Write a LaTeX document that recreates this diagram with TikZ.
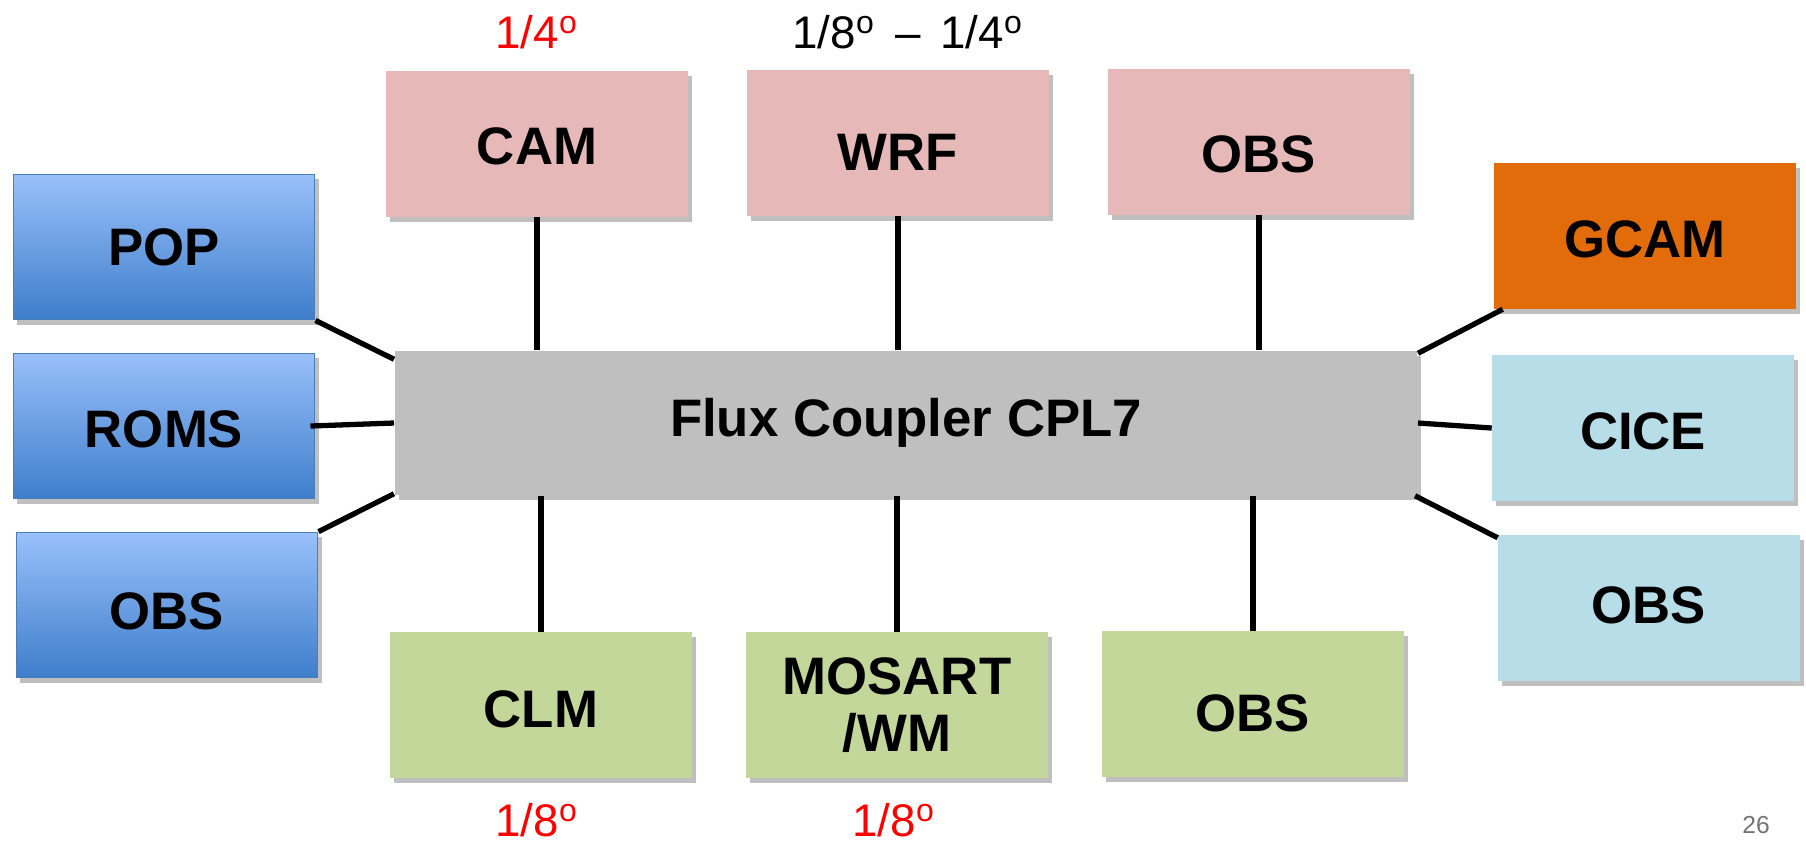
\documentclass[tikz,border=0pt]{standalone}
\usepackage{fontspec}
\setmainfont{Liberation Sans}
\usetikzlibrary{shadows}
\definecolor{atmpink}{HTML}{E6B9B8}
\definecolor{ocntop}{HTML}{98C0FA}
\definecolor{ocnbot}{HTML}{3F7ECB}
\definecolor{ocnedge}{HTML}{4A7EBB}
\definecolor{gcamorange}{HTML}{E36C0A}
\definecolor{iceblue}{HTML}{B7DDE8}
\definecolor{lndgreen}{HTML}{C4D79B}
\definecolor{cplgray}{HTML}{BFBFBF}

\begin{document}
\begin{tikzpicture}[x=0.01cm,y=-0.01cm,
  box/.style={minimum width=3.01cm,minimum height=1.45cm,inner sep=0pt,align=center,
    font=\fontsize{15}{16}\selectfont\bfseries,
    drop shadow={shadow xshift=0.04cm,shadow yshift=-0.05cm,fill=black,opacity=0.25}},
  atm/.style={box,fill=atmpink},
  ocn/.style={box,top color=ocntop,bottom color=ocnbot,draw=ocnedge,line width=0.5pt},
  hum/.style={box,fill=gcamorange},
  ice/.style={box,fill=iceblue},
  lnd/.style={box,fill=lndgreen},
  res/.style={font=\fontsize{13}{15}\selectfont},
  link/.style={line width=1.5pt}]
  \useasboundingbox (0,0) rectangle (1806,841);
  % component models (\th sets where the name sits in its box)
  \foreach \nm/\px/\py/\sty/\th/\lab in {cam/537/144/atm/11.7/CAM, wrf/898/143/atm/15.9/WRF, obsa/1259/142/atm/17.3/OBS,
    pop/164/247/ocn/10.7/POP, roms/164/426/ocn/12/ROMS, obso/167/605/ocn/14/OBS,
    gcam/1645/236/hum/12/GCAM, cice/1643/428/ice/12/CICE, obsi/1649/608/ice/8.7/OBS,
    clm/541/705/lnd/12.7/CLM, obsl/1253/704/lnd/15.9/OBS}
    \node[\sty,text height=\th pt,text depth=0pt] (\nm) at (\px,\py) {\lab};
  \node[lnd] (mos) at (897,705) {MOSART\\/WM};
  \node[box,fill=cplgray,minimum width=10.22cm,minimum height=1.44cm] (cpl) at (906,423) {Flux Coupler CPL7};
  % links to the coupler
  \foreach \nm in {cam,wrf,obsa} \draw[link] (\nm.south) -- (\nm.south |- cpl.north);
  \foreach \nm in {clm,mos,obsl} \draw[link] (\nm.north) -- (\nm.north |- cpl.south);
  \draw[link] (pop.south east) -- ([yshift=-0.09cm]cpl.north west);
  \draw[link] ([xshift=-0.05cm]roms.east) -- (cpl.west);
  \draw[link] (obso.north east) -- ([yshift=0.02cm]cpl.south west);
  \draw[link] ([xshift=0.09cm]gcam.south west) -- ([yshift=-0.03cm]cpl.north east);
  \draw[link] (cice.west) -- (cpl.east);
  \draw[link] ([yshift=-0.03cm]obsi.north west) -- ([xshift=-0.03cm]cpl.south east);
  % resolutions
  \node[res,text=red] (camres) at (537,32) {1/4\textsuperscript{o}};
  \node[res] (wrfres) at (908,32) {1/8\textsuperscript{o}\hspace{2pt} -- \hspace{2pt}1/4\textsuperscript{o}};
  \node[res,text=red] (clmres) at (537,820) {1/8\textsuperscript{o}};
  \node[res,text=red] (mosres) at (894,820) {1/8\textsuperscript{o}};
  \node[font=\fontsize{7}{8}\selectfont,text=black!55] (pg) at (1756,825) {26};
\end{tikzpicture}
\end{document}
